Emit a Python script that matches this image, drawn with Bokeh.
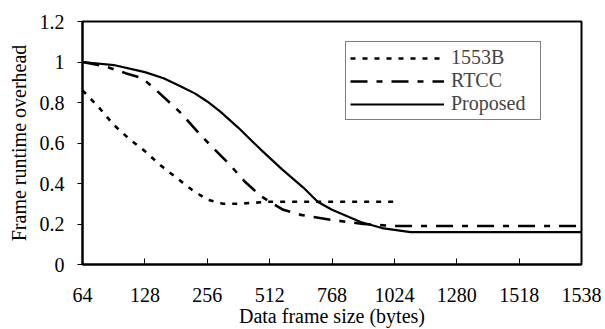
from bokeh.plotting import figure
from bokeh.models import Range1d, FixedTicker, Legend, LegendItem
from bokeh.embed import file_html
from bokeh.resources import INLINE

# Category tick labels (evenly spaced positions 0..8)
x_labels = ["64", "128", "256", "512", "768", "1024", "1280", "1518", "1538"]
y_ticks = [0, 0.2, 0.4, 0.6, 0.8, 1.0, 1.2]
y_tick_labels = ["0", "0.2", "0.4", "0.6", "0.8", "1", "1.2"]

# Series (x given as position along the category axis)
b1553_x = [0, 0.25, 0.5, 0.75, 1.0, 1.25, 1.5, 1.75, 2.0, 2.25, 2.5, 3.0, 4.0, 5.0]
b1553_y = [0.86, 0.78, 0.69, 0.62, 0.56, 0.49, 0.43, 0.37, 0.32, 0.30, 0.30, 0.31, 0.31, 0.31]

rtcc_x = [0, 0.35, 0.69, 0.96, 1.22, 1.57, 1.89, 2.08, 2.37, 2.6, 2.85, 3.0, 3.22, 3.5, 4.0, 4.5, 5.0, 6.0, 7.0, 8.0]
rtcc_y = [1.0, 0.98, 0.945, 0.92, 0.85, 0.75, 0.64, 0.58, 0.49, 0.41, 0.34, 0.31, 0.27, 0.245, 0.22, 0.20, 0.19, 0.19, 0.19, 0.19]

prop_x = [0, 0.5, 1.0, 1.3, 1.57, 1.8, 2.0, 2.21, 2.5, 2.85, 3.2, 3.54, 3.77, 4.0, 4.46, 4.8, 5.26, 6.0, 7.0, 8.0]
prop_y = [1.0, 0.985, 0.95, 0.92, 0.88, 0.845, 0.805, 0.755, 0.675, 0.57, 0.47, 0.38, 0.31, 0.27, 0.21, 0.18, 0.16, 0.16, 0.16, 0.16]

FONT = "Liberation Serif"

p = figure(width=605, height=329, output_backend="svg", toolbar_location=None,
           x_range=Range1d(0, 8), y_range=Range1d(0, 1.2),
           min_border_left=82, min_border_right=24, min_border_top=21, min_border_bottom=63)
p.grid.visible = False
p.background_fill_color = "white"
p.border_fill_color = "white"
p.outline_line_color = "black"
p.outline_line_width = 2

r1 = p.line(b1553_x, b1553_y, line_color="black", line_width=2.6, line_dash="5 7")
r2 = p.line(rtcc_x, rtcc_y, line_color="black", line_width=2.6, line_dash="17 9 6 9")
r3 = p.line(prop_x, prop_y, line_color="black", line_width=2.2)

# axes
xa = p.xaxis[0]
xa.ticker = FixedTicker(ticks=list(range(len(x_labels))))
xa.major_label_overrides = {i: s for i, s in enumerate(x_labels)}
xa.major_tick_in = 6
xa.major_tick_out = 0
xa.minor_tick_line_color = None
xa.axis_line_width = 2
xa.major_tick_line_width = 1
xa.major_label_standoff = 23
xa.axis_label = "Data frame size (bytes)"
xa.axis_label_standoff = 0

ya = p.yaxis[0]
ya.ticker = FixedTicker(ticks=y_ticks)
ya.major_label_overrides = {t: s for t, s in zip(y_ticks, y_tick_labels)}
ya.major_tick_in = 0
ya.major_tick_out = 5
ya.minor_tick_line_color = None
ya.axis_line_width = 2
ya.major_tick_line_width = 1
ya.major_label_standoff = 13
ya.axis_label = "Frame runtime overhead"
ya.axis_label_standoff = 7

for ax in (xa, ya):
    ax.major_label_text_font = FONT
    ax.major_label_text_font_size = "20px"
    ax.major_label_text_color = "black"
    ax.axis_label_text_font = FONT
    ax.axis_label_text_font_size = "20px"
    ax.axis_label_text_font_style = "normal"
    ax.axis_label_text_color = "black"
    ax.axis_line_color = "black"
    ax.major_tick_line_color = "black"

legend = Legend(items=[LegendItem(label="1553B", renderers=[r1]),
                       LegendItem(label="RTCC", renderers=[r2]),
                       LegendItem(label="Proposed", renderers=[r3])],
                location=(263, 144))
legend.label_text_font = FONT
legend.label_text_font_size = "20px"
legend.label_text_line_height = 1.0
legend.glyph_width = 94
legend.glyph_height = 20
legend.label_height = 20
legend.label_width = 85
legend.label_standoff = 7
legend.spacing = 0
legend.padding = 4
legend.margin = 0
legend.border_line_color = "black"
legend.border_line_width = 1
legend.background_fill_alpha = 1
p.add_layout(legend, "center")

open("out.html", "w").write(file_html(p, INLINE))
